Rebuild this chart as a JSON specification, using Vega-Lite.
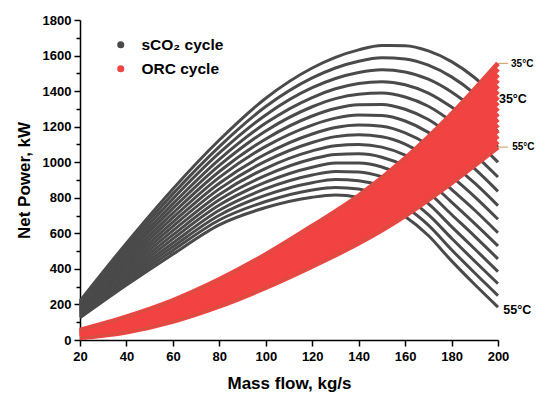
{
  "$schema": "https://vega.github.io/schema/vega-lite/v6.json",
  "width": 418,
  "height": 320,
  "autosize": "none",
  "padding": {"left": 80, "top": 20, "right": 52, "bottom": 58},
  "background": "white",
  "config": {"view": {"stroke": null}, "font": "Liberation Sans"},
  "datasets": {
    "sco2": [
      {"t":0,"m":20,"p":125},{"t":0,"m":40,"p":309},{"t":0,"m":60,"p":483},{"t":0,"m":80,"p":648},{"t":0,"m":100,"p":745},{"t":0,"m":120,"p":803},{"t":0,"m":130,"p":815},{"t":0,"m":140,"p":802},{"t":0,"m":150,"p":765},{"t":0,"m":160,"p":695},{"t":0,"m":170,"p":588},{"t":0,"m":180,"p":445},{"t":0,"m":190,"p":312},{"t":0,"m":200,"p":185},
      {"t":1,"m":20,"p":130},{"t":1,"m":40,"p":322},{"t":1,"m":60,"p":504},{"t":1,"m":80,"p":675},{"t":1,"m":100,"p":779},{"t":1,"m":120,"p":844},{"t":1,"m":130,"p":858},{"t":1,"m":140,"p":849},{"t":1,"m":150,"p":815},{"t":1,"m":160,"p":749},{"t":1,"m":170,"p":646},{"t":1,"m":180,"p":508},{"t":1,"m":190,"p":377},{"t":1,"m":200,"p":250},
      {"t":2,"m":20,"p":136},{"t":2,"m":40,"p":336},{"t":2,"m":60,"p":525},{"t":2,"m":80,"p":702},{"t":2,"m":100,"p":815},{"t":2,"m":120,"p":885},{"t":2,"m":130,"p":903},{"t":2,"m":140,"p":896},{"t":2,"m":150,"p":866},{"t":2,"m":160,"p":804},{"t":2,"m":170,"p":705},{"t":2,"m":180,"p":572},{"t":2,"m":190,"p":443},{"t":2,"m":200,"p":317},
      {"t":3,"m":20,"p":141},{"t":3,"m":40,"p":350},{"t":3,"m":60,"p":546},{"t":3,"m":80,"p":730},{"t":3,"m":100,"p":851},{"t":3,"m":120,"p":928},{"t":3,"m":130,"p":948},{"t":3,"m":140,"p":945},{"t":3,"m":150,"p":918},{"t":3,"m":160,"p":860},{"t":3,"m":170,"p":767},{"t":3,"m":180,"p":638},{"t":3,"m":190,"p":512},{"t":3,"m":200,"p":385},
      {"t":4,"m":20,"p":147},{"t":4,"m":40,"p":364},{"t":4,"m":60,"p":569},{"t":4,"m":80,"p":759},{"t":4,"m":100,"p":888},{"t":4,"m":120,"p":972},{"t":4,"m":130,"p":996},{"t":4,"m":140,"p":995},{"t":4,"m":150,"p":973},{"t":4,"m":160,"p":919},{"t":4,"m":170,"p":830},{"t":4,"m":180,"p":706},{"t":4,"m":190,"p":583},{"t":4,"m":200,"p":456},
      {"t":5,"m":20,"p":153},{"t":5,"m":40,"p":379},{"t":5,"m":60,"p":591},{"t":5,"m":80,"p":789},{"t":5,"m":100,"p":926},{"t":5,"m":120,"p":1018},{"t":5,"m":130,"p":1044},{"t":5,"m":140,"p":1047},{"t":5,"m":150,"p":1028},{"t":5,"m":160,"p":978},{"t":5,"m":170,"p":894},{"t":5,"m":180,"p":776},{"t":5,"m":190,"p":655},{"t":5,"m":200,"p":529},
      {"t":6,"m":20,"p":159},{"t":6,"m":40,"p":394},{"t":6,"m":60,"p":615},{"t":6,"m":80,"p":819},{"t":6,"m":100,"p":966},{"t":6,"m":120,"p":1064},{"t":6,"m":130,"p":1093},{"t":6,"m":140,"p":1100},{"t":6,"m":150,"p":1085},{"t":6,"m":160,"p":1040},{"t":6,"m":170,"p":961},{"t":6,"m":180,"p":847},{"t":6,"m":190,"p":730},{"t":6,"m":200,"p":603},
      {"t":7,"m":20,"p":165},{"t":7,"m":40,"p":409},{"t":7,"m":60,"p":639},{"t":7,"m":80,"p":850},{"t":7,"m":100,"p":1006},{"t":7,"m":120,"p":1111},{"t":7,"m":130,"p":1144},{"t":7,"m":140,"p":1154},{"t":7,"m":150,"p":1143},{"t":7,"m":160,"p":1102},{"t":7,"m":170,"p":1028},{"t":7,"m":180,"p":920},{"t":7,"m":190,"p":805},{"t":7,"m":200,"p":679},
      {"t":8,"m":20,"p":172},{"t":8,"m":40,"p":425},{"t":8,"m":60,"p":663},{"t":8,"m":80,"p":882},{"t":8,"m":100,"p":1046},{"t":8,"m":120,"p":1159},{"t":8,"m":130,"p":1195},{"t":8,"m":140,"p":1209},{"t":8,"m":150,"p":1202},{"t":8,"m":160,"p":1165},{"t":8,"m":170,"p":1097},{"t":8,"m":180,"p":994},{"t":8,"m":190,"p":882},{"t":8,"m":200,"p":756},
      {"t":9,"m":20,"p":178},{"t":9,"m":40,"p":441},{"t":9,"m":60,"p":688},{"t":9,"m":80,"p":915},{"t":9,"m":100,"p":1089},{"t":9,"m":120,"p":1209},{"t":9,"m":130,"p":1248},{"t":9,"m":140,"p":1266},{"t":9,"m":150,"p":1263},{"t":9,"m":160,"p":1232},{"t":9,"m":170,"p":1168},{"t":9,"m":180,"p":1072},{"t":9,"m":190,"p":962},{"t":9,"m":200,"p":836},
      {"t":10,"m":20,"p":185},{"t":10,"m":40,"p":457},{"t":10,"m":60,"p":714},{"t":10,"m":80,"p":948},{"t":10,"m":100,"p":1131},{"t":10,"m":120,"p":1260},{"t":10,"m":130,"p":1302},{"t":10,"m":140,"p":1323},{"t":10,"m":150,"p":1325},{"t":10,"m":160,"p":1298},{"t":10,"m":170,"p":1240},{"t":10,"m":180,"p":1149},{"t":10,"m":190,"p":1042},{"t":10,"m":200,"p":917},
      {"t":11,"m":20,"p":192},{"t":11,"m":40,"p":474},{"t":11,"m":60,"p":740},{"t":11,"m":80,"p":982},{"t":11,"m":100,"p":1176},{"t":11,"m":120,"p":1312},{"t":11,"m":130,"p":1358},{"t":11,"m":140,"p":1383},{"t":11,"m":150,"p":1389},{"t":11,"m":160,"p":1367},{"t":11,"m":170,"p":1315},{"t":11,"m":180,"p":1230},{"t":11,"m":190,"p":1126},{"t":11,"m":200,"p":1000},
      {"t":12,"m":20,"p":198},{"t":12,"m":40,"p":491},{"t":12,"m":60,"p":766},{"t":12,"m":80,"p":1016},{"t":12,"m":100,"p":1220},{"t":12,"m":120,"p":1364},{"t":12,"m":130,"p":1413},{"t":12,"m":140,"p":1443},{"t":12,"m":150,"p":1453},{"t":12,"m":160,"p":1436},{"t":12,"m":170,"p":1389},{"t":12,"m":180,"p":1310},{"t":12,"m":190,"p":1210},{"t":12,"m":200,"p":1084},
      {"t":13,"m":20,"p":206},{"t":13,"m":40,"p":509},{"t":13,"m":60,"p":794},{"t":13,"m":80,"p":1052},{"t":13,"m":100,"p":1266},{"t":13,"m":120,"p":1419},{"t":13,"m":130,"p":1471},{"t":13,"m":140,"p":1505},{"t":13,"m":150,"p":1520},{"t":13,"m":160,"p":1508},{"t":13,"m":170,"p":1467},{"t":13,"m":180,"p":1395},{"t":13,"m":190,"p":1297},{"t":13,"m":200,"p":1172},
      {"t":14,"m":20,"p":213},{"t":14,"m":40,"p":527},{"t":14,"m":60,"p":822},{"t":14,"m":80,"p":1088},{"t":14,"m":100,"p":1313},{"t":14,"m":120,"p":1474},{"t":14,"m":130,"p":1530},{"t":14,"m":140,"p":1568},{"t":14,"m":150,"p":1587},{"t":14,"m":160,"p":1581},{"t":14,"m":170,"p":1546},{"t":14,"m":180,"p":1480},{"t":14,"m":190,"p":1385},{"t":14,"m":200,"p":1260},
      {"t":15,"m":20,"p":220},{"t":15,"m":40,"p":545},{"t":15,"m":60,"p":850},{"t":15,"m":80,"p":1125},{"t":15,"m":100,"p":1360},{"t":15,"m":120,"p":1530},{"t":15,"m":130,"p":1590},{"t":15,"m":140,"p":1632},{"t":15,"m":150,"p":1656},{"t":15,"m":160,"p":1655},{"t":15,"m":170,"p":1626},{"t":15,"m":180,"p":1566},{"t":15,"m":190,"p":1475},{"t":15,"m":200,"p":1350}
    ],
    "orc": [
      {"t":0,"m":20,"p":12},{"t":0,"m":40,"p":45},{"t":0,"m":60,"p":105},{"t":0,"m":80,"p":190},{"t":0,"m":100,"p":295},{"t":0,"m":120,"p":415},{"t":0,"m":140,"p":545},{"t":0,"m":160,"p":700},{"t":0,"m":180,"p":885},{"t":0,"m":200,"p":1085},
      {"t":1,"m":20,"p":15},{"t":1,"m":40,"p":51},{"t":1,"m":60,"p":113},{"t":1,"m":80,"p":200},{"t":1,"m":100,"p":307},{"t":1,"m":120,"p":430},{"t":1,"m":140,"p":563},{"t":1,"m":160,"p":721},{"t":1,"m":180,"p":911},{"t":1,"m":200,"p":1116},
      {"t":2,"m":20,"p":18},{"t":2,"m":40,"p":56},{"t":2,"m":60,"p":121},{"t":2,"m":80,"p":210},{"t":2,"m":100,"p":320},{"t":2,"m":120,"p":445},{"t":2,"m":140,"p":580},{"t":2,"m":160,"p":743},{"t":2,"m":180,"p":936},{"t":2,"m":200,"p":1148},
      {"t":3,"m":20,"p":21},{"t":3,"m":40,"p":62},{"t":3,"m":60,"p":128},{"t":3,"m":80,"p":220},{"t":3,"m":100,"p":332},{"t":3,"m":120,"p":460},{"t":3,"m":140,"p":598},{"t":3,"m":160,"p":764},{"t":3,"m":180,"p":962},{"t":3,"m":200,"p":1179},
      {"t":4,"m":20,"p":23},{"t":4,"m":40,"p":68},{"t":4,"m":60,"p":136},{"t":4,"m":80,"p":230},{"t":4,"m":100,"p":344},{"t":4,"m":120,"p":475},{"t":4,"m":140,"p":616},{"t":4,"m":160,"p":785},{"t":4,"m":180,"p":988},{"t":4,"m":200,"p":1211},
      {"t":5,"m":20,"p":26},{"t":5,"m":40,"p":73},{"t":5,"m":60,"p":144},{"t":5,"m":80,"p":240},{"t":5,"m":100,"p":357},{"t":5,"m":120,"p":490},{"t":5,"m":140,"p":633},{"t":5,"m":160,"p":807},{"t":5,"m":180,"p":1013},{"t":5,"m":200,"p":1242},
      {"t":6,"m":20,"p":29},{"t":6,"m":40,"p":79},{"t":6,"m":60,"p":152},{"t":6,"m":80,"p":250},{"t":6,"m":100,"p":369},{"t":6,"m":120,"p":505},{"t":6,"m":140,"p":651},{"t":6,"m":160,"p":828},{"t":6,"m":180,"p":1039},{"t":6,"m":200,"p":1273},
      {"t":7,"m":20,"p":32},{"t":7,"m":40,"p":85},{"t":7,"m":60,"p":160},{"t":7,"m":80,"p":260},{"t":7,"m":100,"p":381},{"t":7,"m":120,"p":520},{"t":7,"m":140,"p":669},{"t":7,"m":160,"p":849},{"t":7,"m":180,"p":1065},{"t":7,"m":200,"p":1305},
      {"t":8,"m":20,"p":35},{"t":8,"m":40,"p":90},{"t":8,"m":60,"p":167},{"t":8,"m":80,"p":270},{"t":8,"m":100,"p":394},{"t":8,"m":120,"p":535},{"t":8,"m":140,"p":686},{"t":8,"m":160,"p":871},{"t":8,"m":180,"p":1090},{"t":8,"m":200,"p":1336},
      {"t":9,"m":20,"p":38},{"t":9,"m":40,"p":96},{"t":9,"m":60,"p":175},{"t":9,"m":80,"p":280},{"t":9,"m":100,"p":406},{"t":9,"m":120,"p":550},{"t":9,"m":140,"p":704},{"t":9,"m":160,"p":892},{"t":9,"m":180,"p":1116},{"t":9,"m":200,"p":1368},
      {"t":10,"m":20,"p":41},{"t":10,"m":40,"p":102},{"t":10,"m":60,"p":183},{"t":10,"m":80,"p":290},{"t":10,"m":100,"p":418},{"t":10,"m":120,"p":565},{"t":10,"m":140,"p":722},{"t":10,"m":160,"p":913},{"t":10,"m":180,"p":1142},{"t":10,"m":200,"p":1399},
      {"t":11,"m":20,"p":44},{"t":11,"m":40,"p":107},{"t":11,"m":60,"p":191},{"t":11,"m":80,"p":300},{"t":11,"m":100,"p":431},{"t":11,"m":120,"p":580},{"t":11,"m":140,"p":739},{"t":11,"m":160,"p":935},{"t":11,"m":180,"p":1167},{"t":11,"m":200,"p":1430},
      {"t":12,"m":20,"p":46},{"t":12,"m":40,"p":113},{"t":12,"m":60,"p":199},{"t":12,"m":80,"p":310},{"t":12,"m":100,"p":443},{"t":12,"m":120,"p":595},{"t":12,"m":140,"p":757},{"t":12,"m":160,"p":956},{"t":12,"m":180,"p":1193},{"t":12,"m":200,"p":1462},
      {"t":13,"m":20,"p":49},{"t":13,"m":40,"p":119},{"t":13,"m":60,"p":206},{"t":13,"m":80,"p":320},{"t":13,"m":100,"p":455},{"t":13,"m":120,"p":610},{"t":13,"m":140,"p":775},{"t":13,"m":160,"p":977},{"t":13,"m":180,"p":1219},{"t":13,"m":200,"p":1493},
      {"t":14,"m":20,"p":52},{"t":14,"m":40,"p":124},{"t":14,"m":60,"p":214},{"t":14,"m":80,"p":330},{"t":14,"m":100,"p":468},{"t":14,"m":120,"p":625},{"t":14,"m":140,"p":792},{"t":14,"m":160,"p":999},{"t":14,"m":180,"p":1244},{"t":14,"m":200,"p":1525},
      {"t":15,"m":20,"p":55},{"t":15,"m":40,"p":130},{"t":15,"m":60,"p":222},{"t":15,"m":80,"p":340},{"t":15,"m":100,"p":480},{"t":15,"m":120,"p":640},{"t":15,"m":140,"p":810},{"t":15,"m":160,"p":1020},{"t":15,"m":180,"p":1270},{"t":15,"m":200,"p":1556}
    ]
  },
  "resolve": {"axis": {"y": "independent"}},
  "layer": [
    {
      "data": {"name": "sco2"},
      "mark": {"type": "line", "interpolate": "monotone", "strokeWidth": 3},
      "encoding": {
        "x": {
          "field": "m", "type": "quantitative",
          "scale": {"domain": [20, 200], "nice": false, "zero": false},
          "axis": {
            "title": "Mass flow, kg/s",
            "values": [20,30,40,50,60,70,80,90,100,110,120,130,140,150,160,170,180,190,200],
            "labelExpr": "datum.value % 20 === 0 ? datum.label : ''",
            "grid": false,
            "domainColor": "black", "domainWidth": 1.5,
            "tickColor": "black", "tickWidth": 1.5,
            "tickSize": {"condition": {"test": "datum.value % 20 === 0", "value": 6}, "value": 4},
            "labelFont": "Liberation Sans", "labelFontSize": 13, "labelFontWeight": "bold", "labelColor": "black",
            "labelPadding": 4, "labelFlush": false, "labelOverlap": false,
            "titleFont": "Liberation Sans", "titleFontSize": 17, "titleFontWeight": "bold", "titleColor": "black",
            "titlePadding": 12
          }
        },
        "y": {
          "field": "p", "type": "quantitative",
          "scale": {"domain": [0, 1800], "nice": false},
          "axis": {
            "orient": "left",
            "title": "Net Power, kW",
            "format": "d",
            "values": [0,200,400,600,800,1000,1200,1400,1600,1800],
            "grid": false,
            "domainColor": "black", "domainWidth": 1.5,
            "tickColor": "black", "tickWidth": 1.5, "tickSize": 6,
            "labelFont": "Liberation Sans", "labelFontSize": 13, "labelFontWeight": "bold", "labelColor": "black",
            "labelPadding": 3, "labelFlush": false, "labelOverlap": false,
            "titleFont": "Liberation Sans", "titleFontSize": 17, "titleFontWeight": "bold", "titleColor": "black",
            "titlePadding": 9
          }
        },
        "detail": {"field": "t", "type": "nominal"},
        "color": {
          "datum": "sCO₂ cycle", "type": "nominal",
          "scale": {"domain": ["sCO₂ cycle", "ORC cycle"], "range": ["#4a4a4a", "#f24343"]},
          "legend": {
            "orient": "none", "legendX": 33, "legendY": 17, "title": null,
            "symbolType": "circle", "symbolSize": 50, "symbolStrokeWidth": 0,
            "labelFont": "Liberation Sans", "labelFontSize": 15.5, "labelFontWeight": "bold", "labelColor": "black",
            "labelOffset": 13, "rowPadding": 7,
            "encode": {"symbols": {"update": {"fill": {"scale": "color", "field": "value"}, "opacity": {"value": 1}}}}
          }
        }
      }
    },
    {
      "data": {"name": "orc"},
      "mark": {"type": "line", "interpolate": "monotone", "strokeWidth": 5},
      "encoding": {
        "x": {"field": "m", "type": "quantitative"},
        "y": {
          "field": "p", "type": "quantitative",
          "axis": {
            "orient": "left", "title": null, "labels": false, "domain": false, "grid": false,
            "values": [100,300,500,700,900,1100,1300,1500,1700],
            "tickColor": "black", "tickWidth": 1.5, "tickSize": 4
          }
        },
        "detail": {"field": "t", "type": "nominal"},
        "color": {"datum": "ORC cycle", "type": "nominal"}
      }
    },
    {
      "data": {"name": "orc"},
      "transform": [{"filter": {"field": "t", "oneOf": [0, 15]}}],
      "mark": {"type": "line", "interpolate": "monotone", "strokeWidth": 1, "color": "#9a6a3f", "opacity": 0.6},
      "encoding": {
        "x": {"field": "m", "type": "quantitative"},
        "y": {"field": "p", "type": "quantitative", "axis": null},
        "detail": {"field": "t", "type": "nominal"}
      }
    },
    {
      "data": {"values": [{"m": 200, "m2": 204.3, "p": 1556}, {"m": 200, "m2": 204.3, "p": 1085}]},
      "mark": {"type": "rule", "color": "#d2a679", "strokeWidth": 1.2},
      "encoding": {
        "x": {"field": "m", "type": "quantitative"},
        "x2": {"field": "m2"},
        "y": {"field": "p", "type": "quantitative", "axis": null}
      }
    },
    {
      "data": {"values": [{"m": 205.6, "p": 1552, "txt": "35°C"}, {"m": 206.1, "p": 1084, "txt": "55°C"}]},
      "mark": {"type": "text", "align": "left", "baseline": "middle", "font": "Liberation Sans", "fontSize": 10, "fontWeight": "bold", "color": "black"},
      "encoding": {
        "x": {"field": "m", "type": "quantitative"},
        "y": {"field": "p", "type": "quantitative", "axis": null},
        "text": {"field": "txt"}
      }
    },
    {
      "data": {"values": [{"m": 200.4, "p": 1356, "txt": "35°C"}, {"m": 202.3, "p": 169, "txt": "55°C"}]},
      "mark": {"type": "text", "align": "left", "baseline": "middle", "font": "Liberation Sans", "fontSize": 12.5, "fontWeight": "bold", "color": "black"},
      "encoding": {
        "x": {"field": "m", "type": "quantitative"},
        "y": {"field": "p", "type": "quantitative", "axis": null},
        "text": {"field": "txt"}
      }
    }
  ]
}
